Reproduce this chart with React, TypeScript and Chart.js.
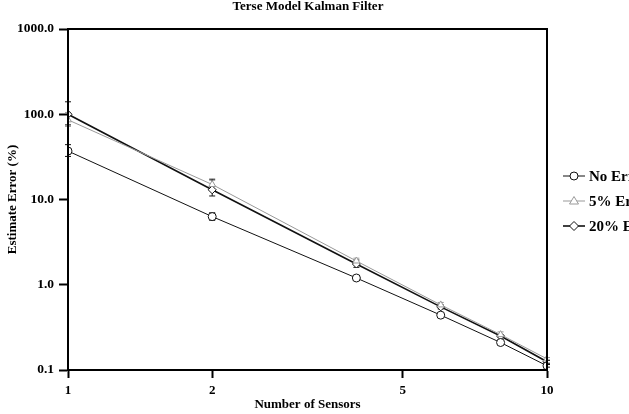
import React, { useEffect, useRef } from "react";
import { Chart, registerables } from "chart.js";

Chart.register(...registerables);

const title = "Terse Model Kalman Filter";
const xTitle = "Number of Sensors";
const yTitle = "Estimate Error (%)";
const sensors = [1, 2, 4, 6, 8, 10];
const noError = [37, 6.3, 1.2, 0.44, 0.21, 0.112];
const err5 = [86, 15, 1.9, 0.58, 0.26, 0.135];
const err20 = [100, 13, 1.75, 0.55, 0.25, 0.125];
const noErrorLow = [32, 5.7, 1.13, 0.42, 0.2, 0.108];
const noErrorHigh = [44, 7.0, 1.27, 0.46, 0.22, 0.116];
const err5Low = [72, 13.2, 1.8, 0.55, 0.25, 0.13];
const err5High = [105, 17.5, 2.05, 0.62, 0.28, 0.14];
const err20Low = [75, 11, 1.6, 0.52, 0.24, 0.12];
const err20High = [140, 17, 1.95, 0.58, 0.26, 0.13];
const xTicks = [1, 2, 5, 10];
const yTicks = [0.1, 1, 10, 100, 1000];
const seriesNames = ["No Error", "5% Error", "20% Error"];

const FONT = '"Liberation Serif", "Times New Roman", serif';

export default function App() {
  const ref = useRef<HTMLCanvasElement>(null);
  useEffect(() => {
    const canvas = ref.current!;
    const mk = (ys: number[]) => sensors.map((x, i) => ({ x, y: ys[i] }));
    const lows = [noErrorLow, err5Low, err20Low];
    const highs = [noErrorHigh, err5High, err20High];
    const styles = [
      { color: "#111", style: "circle", width: 1 },
      { color: "#999", style: "triangle", width: 1 },
      { color: "#111", style: "rectRot", width: 1.6 },
    ];

    const decor = {
      id: "decor",
      beforeDatasetsDraw(chart: any) {
        const ctx = chart.ctx;
        const xs = chart.scales.x;
        const ys = chart.scales.y;
        ctx.save();
        for (let d = 0; d < 3; d++) {
          ctx.strokeStyle = styles[d].color;
          ctx.lineWidth = 1;
          for (let i = 0; i < sensors.length; i++) {
            const px = xs.getPixelForValue(sensors[i]);
            const y1 = ys.getPixelForValue(lows[d][i]);
            const y2 = ys.getPixelForValue(highs[d][i]);
            ctx.beginPath();
            ctx.moveTo(px, y1);
            ctx.lineTo(px, y2);
            ctx.moveTo(px - 3, y1);
            ctx.lineTo(px + 3, y1);
            ctx.moveTo(px - 3, y2);
            ctx.lineTo(px + 3, y2);
            ctx.stroke();
          }
        }
        ctx.restore();
      },
      afterDraw(chart: any) {
        const ctx = chart.ctx;
        const a = chart.chartArea;
        ctx.save();
        ctx.strokeStyle = "#000";
        ctx.lineWidth = 2;
        ctx.strokeRect(a.left, a.top, a.right - a.left, a.bottom - a.top);
        ctx.fillStyle = "#000";
        ctx.font = "bold 13px " + FONT;
        ctx.textAlign = "center";
        ctx.textBaseline = "middle";
        ctx.fillText(title, 308, 7);
        ctx.fillText(xTitle, (a.left + a.right) / 2, 405);
        ctx.save();
        ctx.translate(13, (a.top + a.bottom) / 2);
        ctx.rotate(-Math.PI / 2);
        ctx.fillText(yTitle, 0, 0);
        ctx.restore();
        // legend
        const rowY = [176, 201, 226];
        for (let d = 0; d < 3; d++) {
          const y = rowY[d];
          ctx.strokeStyle = styles[d].color;
          ctx.lineWidth = styles[d].width;
          ctx.beginPath();
          ctx.moveTo(563, y);
          ctx.lineTo(585, y);
          ctx.stroke();
          ctx.fillStyle = "#fff";
          ctx.lineWidth = 1;
          const cx = 574;
          ctx.beginPath();
          if (d === 0) {
            ctx.arc(cx, y, 4, 0, Math.PI * 2);
          } else if (d === 1) {
            ctx.moveTo(cx, y - 4.5);
            ctx.lineTo(cx + 4.5, y + 3);
            ctx.lineTo(cx - 4.5, y + 3);
            ctx.closePath();
          } else {
            ctx.moveTo(cx, y - 4.5);
            ctx.lineTo(cx + 4.5, y);
            ctx.lineTo(cx, y + 4.5);
            ctx.lineTo(cx - 4.5, y);
            ctx.closePath();
          }
          ctx.fill();
          ctx.stroke();
          ctx.fillStyle = "#000";
          ctx.textAlign = "left";
          ctx.font = "bold 15px " + FONT;
          ctx.fillText(seriesNames[d], 589, y + 1);
        }
        ctx.restore();
      },
    };

    const chart = new Chart(canvas, {
      type: "line",
      data: {
        datasets: [0, 1, 2].map((d) => ({
          label: seriesNames[d],
          data: mk([noError, err5, err20][d]),
          borderColor: styles[d].color,
          borderWidth: styles[d].width,
          pointStyle: styles[d].style as any,
          pointRadius: 4,
          pointBackgroundColor: "#fff",
          pointBorderColor: styles[d].color,
          pointBorderWidth: 1,
          fill: false,
          tension: 0,
        })),
      },
      options: {
        animation: false,
        responsive: false,
        maintainAspectRatio: false,
        events: [],
        layout: { padding: { top: 29, right: 82, left: 0, bottom: 0 } },
        plugins: { legend: { display: false }, title: { display: false }, tooltip: { enabled: false } },
        scales: {
          x: {
            type: "logarithmic",
            min: 1,
            max: 10,
            afterBuildTicks: (s: any) => {
              s.ticks = xTicks.map((v) => ({ value: v }));
            },
            afterFit: (s: any) => {
              s.height = 44;
            },
            border: { display: true, color: "#000", width: 2 },
            grid: { drawOnChartArea: false, drawTicks: true, tickLength: 8, tickWidth: 2, tickColor: "#000" },
            ticks: {
              color: "#000",
              font: { family: FONT, size: 13, weight: "bold" },
              padding: 5,
              maxRotation: 0,
              autoSkip: false,
              callback: (v: any) => String(v),
            },
          },
          y: {
            type: "logarithmic",
            min: 0.1,
            max: 1000,
            afterBuildTicks: (s: any) => {
              s.ticks = yTicks.map((v) => ({ value: v }));
            },
            afterFit: (s: any) => {
              s.width = 68;
            },
            border: { display: true, color: "#000", width: 2 },
            grid: { drawOnChartArea: false, drawTicks: true, tickLength: 9, tickWidth: 2, tickColor: "#000" },
            ticks: {
              color: "#000",
              font: { family: FONT, size: 13.5, weight: "bold" },
              padding: 5,
              autoSkip: false,
              callback: (v: any) => (Number(v) >= 1 ? Number(v).toFixed(1) : String(v)),
            },
          },
        },
      },
      plugins: [decor],
    } as any);
    return () => chart.destroy();
  }, []);
  return (
    <div style={{ position: "absolute", left: 0, top: 0, width: 629, height: 414, overflow: "hidden", background: "#fff" }}>
      <canvas ref={ref} width={629} height={414} style={{ display: "block", width: 629, height: 414 }} />
    </div>
  );
}
